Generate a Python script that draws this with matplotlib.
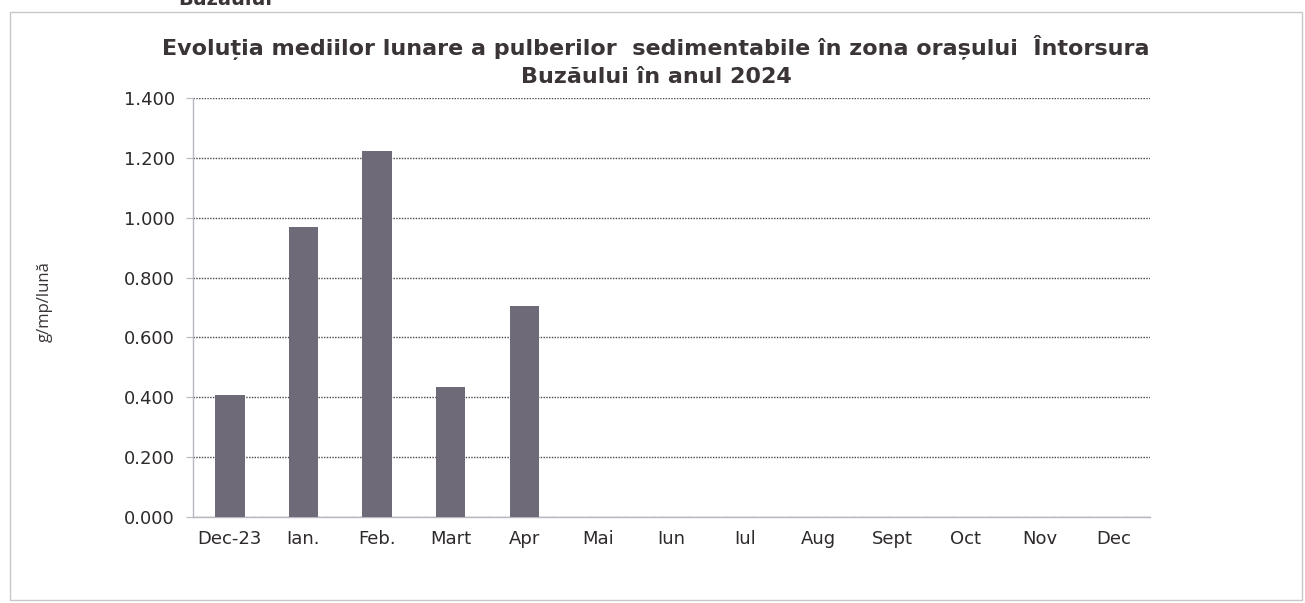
import matplotlib
matplotlib.use("Agg")
import matplotlib.pyplot as plt
from matplotlib.patches import Rectangle

categories = ["Dec-23", "Ian.", "Feb.", "Mart", "Apr", "Mai", "Iun", "Iul",
              "Aug", "Sept", "Oct", "Nov", "Dec"]
values = [0.408, 0.970, 1.223, 0.434, 0.705, None, None, None,
          None, None, None, None, None]
yticks = [0.0, 0.2, 0.4, 0.6, 0.8, 1.0, 1.2, 1.4]
ytick_labels = ["0.000", "0.200", "0.400", "0.600", "0.800", "1.000", "1.200", "1.400"]

title = "Evoluția mediilor lunare a pulberilor  sedimentabile în zona orașului  Întorsura\nBuzăului în anul 2024"
ylabel = "g/mp/lună"

plt.rcParams['font.family'] = ['DejaVu Sans']

fig = plt.figure(figsize=(13.05, 6.03), dpi=100)
fig.patch.set_facecolor("white")

# outer frame
fig.patches.append(Rectangle((10/1305, 1 - 600/603), (1302-10)/1305, (600-12)/603,
                             transform=fig.transFigure, fill=False,
                             edgecolor="#c8c8cc", linewidth=1.0))

# partially cut-off text at the very top (as in the scanned reference)
fig.text(225/1305, 1 - 5/603, "Buzăului", ha="center", va="baseline",
         fontsize=14, fontweight="bold", color="#3a3436")

ax = fig.add_axes([193/1305, 1 - 517/603, (1150-193)/1305, (517-98)/603])

xs = list(range(len(categories)))
bx = [x for x, v in zip(xs, values) if v is not None]
bv = [v for v in values if v is not None]
ax.bar(bx, bv, width=0.4, color="#6f6a78", zorder=3)

ax.set_xlim(-0.5, len(categories) - 0.5)
ax.set_ylim(0, 1.4)
ax.set_yticks(yticks)
ax.set_yticklabels(ytick_labels)
ax.set_xticks(xs)
ax.set_xticklabels(categories)

ax.yaxis.grid(True, linestyle=(0, (1, 1)), color="#4a4450", linewidth=1.0, zorder=0)
ax.set_axisbelow(True)

for s in ["top", "right"]:
    ax.spines[s].set_visible(False)
for s in ["left", "bottom"]:
    ax.spines[s].set_color("#b8b6c0")
    ax.spines[s].set_linewidth(1.0)

ax.tick_params(axis="y", length=5, color="#b8b6c0", labelsize=13,
               labelcolor="#2e2a2c", pad=8)
ax.tick_params(axis="x", length=0, labelsize=13, labelcolor="#2e2a2c", pad=9)

fig.text(656/1305, 1 - 61/603, title, ha="center", va="center",
         fontsize=16, fontweight="bold", color="#3a3436", linespacing=1.4)

fig.text(45/1305, 1 - 302/603, ylabel, rotation=90, ha="center", va="center",
         fontsize=12, color="#3a3436", family=["Open Sans", "DejaVu Sans"])

fig.savefig("out.png", dpi=100, facecolor="white")
